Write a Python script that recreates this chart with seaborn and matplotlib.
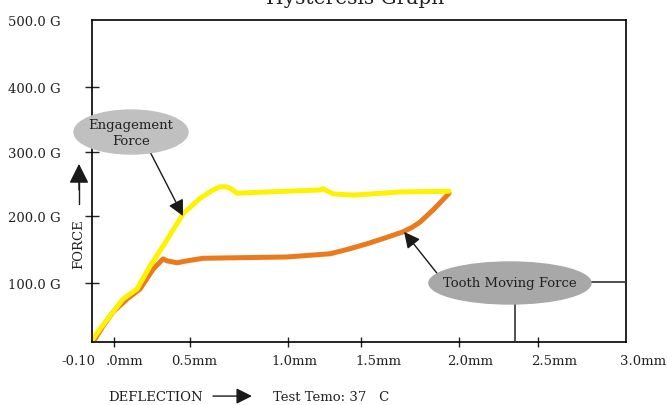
import matplotlib
matplotlib.use('Agg')
import matplotlib.pyplot as plt
from matplotlib.patches import Ellipse, FancyArrowPatch
import seaborn as sns

# 하중 곡선 (Engagement) - deflection(mm), force(G)
engage_x = [-0.091, -0.051, 0.025, 0.083, 0.164, 0.240, 0.315, 0.431, 0.529, 0.605,
            0.645, 0.680, 0.703, 0.744, 0.918, 1.225, 1.243, 1.301, 1.417, 1.690, 1.974]
engage_f = [4.7, 20.2, 46.6, 66.8, 82.3, 118, 149, 199, 223, 236,
            241, 241, 239, 231, 233, 236, 238, 230, 228, 233, 234]

# 제하 곡선 (Tooth moving)
tooth_x = [-0.080, -0.033, 0.025, 0.106, 0.181, 0.257, 0.315, 0.338, 0.396, 0.454,
           0.547, 1.034, 1.109, 1.284, 1.388, 1.492, 1.602, 1.707, 1.759, 1.805,
           1.881, 1.921, 1.974]
tooth_f = [4.7, 24.8, 46.6, 66.8, 82.3, 113, 129, 126, 123, 126,
           130, 132, 133.5, 137, 144, 152, 161.5, 171, 178, 186,
           205, 216, 231]

x_labels = ['-0.10', '.0mm', '0.5mm', '1.0mm', '1.5mm', '2.0mm', '2.5mm', '3.0mm']
y_labels = ['100.0 G', '200.0 G', '300.0 G', '400.0 G', '500.0 G']

# layout (tick spots are not evenly spaced in the original)
x_tick_pos = [0.033, 0.471, 1.037, 1.465, 2.034, 2.490]
x_label_pos = [-0.178, 0.094, 0.495, 1.075, 1.562, 2.095, 2.583, 3.099]
y_tick_pos = [91.6, 195.7, 295, 396, 500]

sns.set_style('ticks', {'axes.edgecolor': 'black'})
plt.rcParams['font.family'] = ['DejaVu Serif']
plt.rcParams['text.color'] = '#222222'
plt.rcParams['ytick.color'] = '#222222'

fig = plt.figure(figsize=(6.67, 4.06), dpi=100)
ax = fig.add_axes([0.1372, 0.1552, 0.8013, 0.7931])

sns.lineplot(x=tooth_x, y=tooth_f, sort=False, estimator=None, color='#ea7a1c',
             lw=3.6, ax=ax, solid_capstyle='round', solid_joinstyle='round')
sns.lineplot(x=engage_x, y=engage_f, sort=False, estimator=None, color='#fff200',
             lw=3.6, ax=ax, solid_capstyle='round', solid_joinstyle='round')

ax.set_xlim(-0.1, 3.0)
ax.set_ylim(0, 500)
for s in ax.spines.values():
    s.set_linewidth(1.2)

ax.set_xticks(x_tick_pos, [''] * len(x_tick_pos))
ax.tick_params(axis='x', direction='inout', length=7, width=1, color='#222')
for xp, lab in zip(x_label_pos, x_labels):
    ax.text(xp, -0.056, lab, transform=ax.get_xaxis_transform(), ha='center',
            va='center', fontsize=9.5)

ax.set_yticks(y_tick_pos, y_labels)
ax.tick_params(axis='y', direction='inout', length=10, width=1, color='#222',
               pad=17, labelsize=9.5)
ax.yaxis.get_major_ticks()[-1].tick1line.set_visible(False)
ax.set_xlabel('')
ax.set_ylabel('')

# Engagement Force 말풍선
ax.add_patch(Ellipse((0.129, 326), 0.661, 68.3, color='#c0c0c0', clip_on=False, zorder=5))
ax.text(0.129, 326, 'Engagement\nForce', ha='center', va='center', fontsize=9.5,
        zorder=6, linespacing=1.3)
ax.annotate('', xy=(0.431, 195.6), xytext=(0.240, 295),
            arrowprops=dict(arrowstyle='-|>', mutation_scale=24, lw=1, color='#1a1a1a',
                            shrinkA=0, shrinkB=0), zorder=4)

# Tooth Moving Force 말풍선
ax.plot([2.356, 2.356], [0, 59], color='#333', lw=1.2, zorder=4)
ax.plot([2.797, 3.0], [93, 93], color='#333', lw=1.2, zorder=4)
ax.add_patch(Ellipse((2.327, 91.6), 0.94, 65.2, color='#a8a8a8', clip_on=False, zorder=5))
ax.text(2.327, 91.6, 'Tooth Moving Force', ha='center', va='center', fontsize=9.5, zorder=6)
ax.annotate('', xy=(1.713, 171), xytext=(1.921, 101),
            arrowprops=dict(arrowstyle='-|>', mutation_scale=24, lw=1, color='#1a1a1a',
                            shrinkA=0, shrinkB=0), zorder=4)

# FORCE 축 라벨 + 화살표
fig.text(0.1184, 0.399, 'FORCE', rotation=90, ha='center', va='center', fontsize=9.5)
fig.add_artist(plt.Line2D([0.1184, 0.1184], [0.495, 0.56], color='#1a1a1a', lw=1))
fig.patches.append(FancyArrowPatch(
    (0.1184, 0.53), (0.1184, 0.594), transform=fig.transFigure, arrowstyle='-|>',
    mutation_scale=30, lw=1, color='#1a1a1a', shrinkA=0, shrinkB=0))

# DEFLECTION + Test temp
fig.text(108 / 667, 0.022, 'DEFLECTION', ha='left', va='center', fontsize=9.5)
fig.patches.append(FancyArrowPatch(
    (213 / 667, 0.022), (252 / 667, 0.022), transform=fig.transFigure, arrowstyle='-|>',
    mutation_scale=24, lw=1, color='#1a1a1a', shrinkA=0, shrinkB=0))
fig.text(273 / 667, 0.022, 'Test Temo: 37   C', ha='left', va='center', fontsize=9.5)

# 잘린 제목
fig.text(355 / 667, 1 - 4 / 406, 'Hysteresis Graph', ha='center', va='baseline', fontsize=14.5)

fig.savefig('out.png', dpi=100)
